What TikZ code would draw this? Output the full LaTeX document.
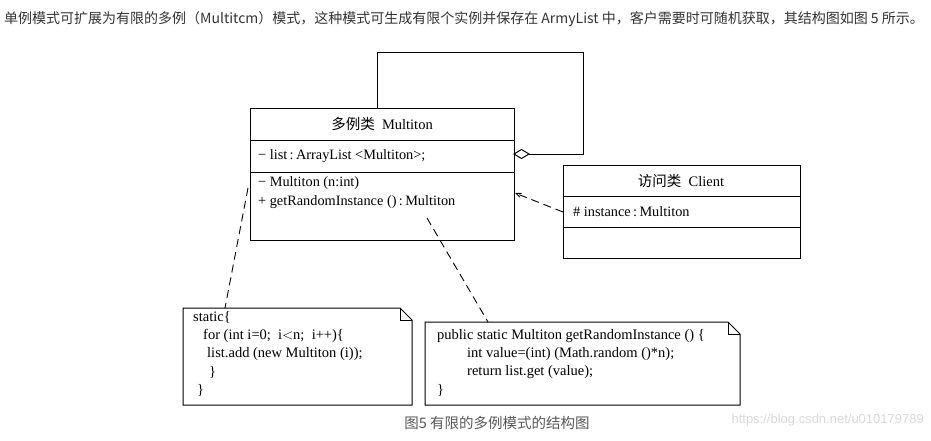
\documentclass[tikz,border=0pt]{standalone}
\usepackage{fontspec}
\setmainfont{Liberation Serif}
\newfontfamily\cjk{Noto Sans CJK SC}
\usetikzlibrary{arrows,positioning}

\begin{document}
\begin{tikzpicture}[x=1pt,y=-1pt]
    \tikzset{cls/.style = {shape=rectangle, draw, line width=1pt, inner sep=0pt}}
    \tikzset{row/.style = {anchor=west, inner sep=0pt, font=\fontsize{14.3}{16}\selectfont}}
    \tikzset{ttl/.style = {inner sep=0pt, font=\fontsize{14.5}{16}\selectfont}}
    \tikzset{dep/.style = {draw, dashed, dash pattern=on 8pt off 5pt, line width=0.9pt}}
    \useasboundingbox (0,0) rectangle (931,440);

    % heading
    \node[anchor=west, inner sep=0pt, text=black!80] (head) at (4,19)
        {\cjk\fontsize{14}{16}\selectfont 单例模式可扩展为有限的多例（Multitcm）模式，这种模式可生成有限个实例并保存在 ArmyList 中，客户需要时可随机获取，其结构图如图 5 所示。};

    % classes
    \node[cls, minimum width=264pt, minimum height=132pt] (multi) at (382,174) {};
    \draw[line width=1pt] (250,140) -- (514,140) (250,172) -- (514,172);
    \node[ttl] (mname) at (382,124) {{\cjk 多例类}\ \ Multiton};
    \node[row] (mlist) at (258,156) {− list\,:\,ArrayList <Multiton>;};
    \node[row] (mctor) at (258,183) {− Multiton (n:int)};
    \node[row] (mget) at (258,202) {+ getRandomInstance ()\,:\,Multiton};

    \node[cls, minimum width=237pt, minimum height=93pt] (client) at (681.5,211.5) {};
    \draw[line width=1pt] (563,196) -- (800,196) (563,227) -- (800,227);
    \node[ttl] (cname) at (681,181) {{\cjk 访问类}\ \ Client};
    \node[row] (cinst) at (573,212) {\# instance\,:\,Multiton};

    % notes
    \coordinate (n1a) at (183,308);
    \coordinate (n1b) at (412,405);
    \draw[line width=1pt] (183,308) -- (400,308) -- (412,320) -- (412,405) -- (183,405) -- cycle;
    \draw[line width=0.8pt] (400,308) -- (400,320) -- (412,320);
    \node[anchor=north west, inner sep=0pt, align=left, font=\fontsize{14.5}{18.3}\selectfont] (note1) at (193,311)
        {static\{\\ \hspace*{10pt}for (int i=0;\ \ i$<$n;\ \ i++)\{\\ \hspace*{14pt}list.add (new Multiton (i));\\ \hspace*{16pt}\}\\ \hspace*{4pt}\}};

    \coordinate (n2a) at (425,322);
    \draw[line width=1pt] (425,322) -- (728,322) -- (740,334) -- (740,405) -- (425,405) -- cycle;
    \draw[line width=0.8pt] (728,322) -- (728,334) -- (740,334);
    \node[anchor=north west, inner sep=0pt, align=left, font=\fontsize{14.5}{18.3}\selectfont] (note2) at (437,329)
        {public static Multiton getRandomInstance () \{\\ \hspace*{30pt}int value=(int) (Math.random ()*n);\\ \hspace*{30pt}return list.get (value);\\ \}};

    % edges
    \coordinate (loopa) at (377,52);
    \coordinate (loopb) at (583,52);
    \coordinate (loopc) at (583,154);
    \draw[line width=1pt] (377,108) -- (loopa) -- (loopb) -- (loopc) -- (529,154);
    \draw[line width=1pt, fill=white] (529,154) -- (521.5,149.5) -- (514,154) -- (521.5,158.5) -- cycle;
    \draw[dep, -angle 45] (563,212) -- (515,193);
    \draw[dep] (248,188) -- (225,308);
    \draw[dep] (427,218) -- (488,322);

    % caption
    \node[text=black!65, inner sep=0pt] (cap) at (497,423) {\cjk\fontsize{14.5}{16}\selectfont 图5 有限的多例模式的结构图};
    \node[text=black!15, anchor=east, inner sep=0pt] (mark) at (924,420) {\fontspec{Liberation Sans}\fontsize{13}{15}\selectfont https://blog.csdn.net/u010179789};
\end{tikzpicture}
\end{document}
